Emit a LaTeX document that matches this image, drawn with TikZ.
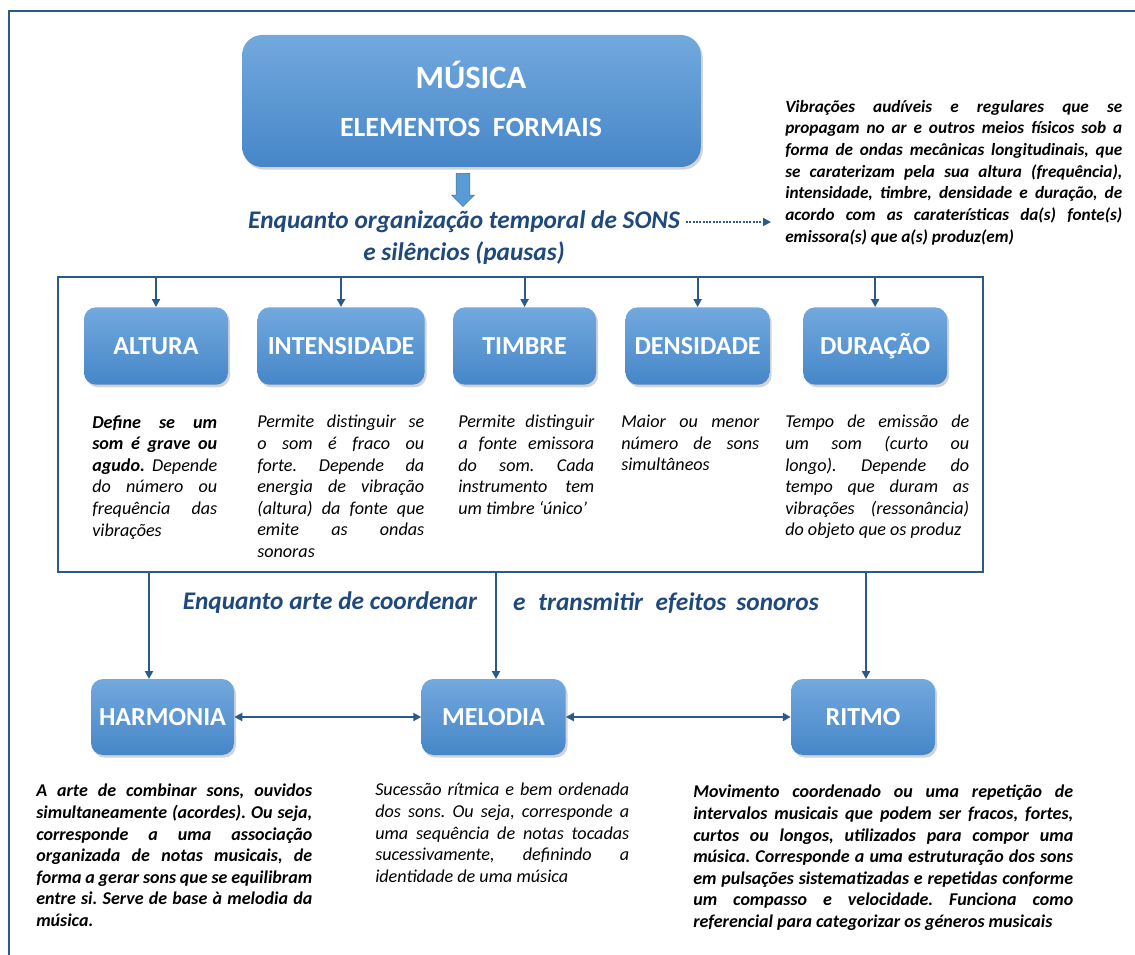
\documentclass[tikz,border=0pt]{standalone}
\usepackage{fontspec}
\setmainfont{Carlito}
\usetikzlibrary{positioning,shadows,shapes.arrows,arrows.meta}
\definecolor{linha}{HTML}{2B5A8A}
\definecolor{titulo}{HTML}{1F497D}
\definecolor{caixatopo}{HTML}{72A9DE}
\definecolor{caixabase}{HTML}{4686C8}
\definecolor{setaazul}{HTML}{5B9BD5}
\definecolor{setaborda}{HTML}{41719C}
\frenchspacing

\begin{document}
\begin{tikzpicture}[x=0.75pt, y=-0.75pt,
				block/.style={rectangle, rounded corners=9pt, top color=caixatopo, bottom color=caixabase, text=white, font=\fontsize{19.5}{22}\selectfont\bfseries, minimum height=58pt, drop shadow={shadow xshift=1.5pt, shadow yshift=-2pt, opacity=0.35}},
				desc/.style={anchor=north west, inner sep=0pt, align=justify, font=\fontsize{13.6}{16.2}\selectfont\itshape},
				descb/.style={desc, font=\fontsize{13.5}{16.2}\selectfont\bfseries\itshape},
				head/.style={inner sep=0pt, text=titulo, font=\fontsize{19}{23}\selectfont\bfseries\itshape},
				titletext/.style={inner sep=0pt, text=white, font=\bfseries},
				frame/.style={rectangle, draw=linha, line width=1.5pt, inner sep=0pt},
				seta/.style={draw=linha, line width=1.5pt, -{Triangle[length=6pt, width=6pt]}}
			]
			\useasboundingbox (0,0) rectangle (1135,955);
			\draw[linha, line width=1.5pt] (9,955) -- (9,11) -- (1135,11);
			\node[block, minimum width=344pt, minimum height=99pt, rounded corners=15pt] (musica) at (471.5,101) {};
			\node[titletext, font=\fontsize{24.4}{28}\selectfont\bfseries] (nomemusica) at (471,75) {MÚSICA};
			\node[titletext, font=\fontsize{20.9}{24}\selectfont\bfseries] (elementos) at (471,127) {ELEMENTOS\hspace{0.45em}FORMAIS};
			\node[single arrow, draw=setaborda, fill=setaazul, rotate=-90, minimum height=24.75pt, inner sep=4.9pt, single arrow head extend=3.4pt] (bloco) at (463,186.5) {};
			\node[head] (temporal) at (464,222) {Enquanto organização temporal de SONS};
			\node[head] (pausas) at (464,253) {e silêncios (pausas)};
			\node[desc, text width=252.75pt, font=\fontsize{12.9}{16.25}\selectfont\bfseries\itshape] (vibracoes) at (785,100) {Vibrações audíveis e regulares que se\linebreak propagam no ar e outros meios físicos sob a\linebreak forma de ondas mecânicas longitudinais, que\linebreak se caraterizam pela sua altura (frequência),\linebreak intensidade, timbre, densidade e duração, de\linebreak acordo com as caraterísticas da(s) fonte(s)\linebreak emissora(s) que a(s) produz(em)};
			\node[frame, minimum width=693.75pt, minimum height=221.25pt] (grupo) at (520.5,424.5) {};
			\node[block, minimum width=108pt] (altura) at (156,346) {ALTURA};
			\node[block, minimum width=125.25pt] (intensidade) [right=21.75pt of altura] {INTENSIDADE};
			\node[block, minimum width=107.25pt] (timbre) [right=21pt of intensidade] {TIMBRE};
			\node[block, minimum width=108pt] (densidade) [right=21.75pt of timbre] {DENSIDADE};
			\node[block, minimum width=108pt] (duracao) [right=24.75pt of densidade] {DURAÇÃO};
			\node[desc, text width=93.75pt] (daltura) at (92,415) {\textbf{Define se um\linebreak som é grave ou\linebreak agudo.} Depende\linebreak do número ou\linebreak frequência das\linebreak vibrações};
			\node[desc, text width=125.25pt] (dintensidade) at (257,415) {Permite distinguir se\linebreak o som é fraco ou\linebreak forte. Depende da\linebreak energia de vibração\linebreak (altura) da fonte que\linebreak emite as ondas\linebreak sonoras};
			\node[desc, text width=102pt] (dtimbre) at (458,415) {Permite distinguir\linebreak a fonte emissora\linebreak do som. Cada\linebreak instrumento tem\linebreak um timbre ‘único’};
			\node[desc, text width=103.5pt] (ddensidade) at (621,415) {Maior ou menor\linebreak número de sons\linebreak simultâneos};
			\node[desc, text width=138pt] (dduracao) at (785,415) {Tempo de emissão de\linebreak um som (curto ou\linebreak longo). Depende do\linebreak tempo que duram as\linebreak vibrações (ressonância)\linebreak do objeto que os produz};
			\node[head] (coordenar) at (330,603) {Enquanto arte de coordenar};
			\node[head] (transmitir) at (666,603) {e\hspace{0.5em}transmitir\hspace{0.5em}efeitos\hspace{0.4em}sonoros};
			\node[block, minimum width=107.25pt, minimum height=57pt] (harmonia) at (162.5,717) {HARMONIA};
			\node[block, minimum width=108pt, minimum height=57pt] (melodia) [right=140.25pt of harmonia] {MELODIA};
			\node[block, minimum width=108pt, minimum height=57pt] (ritmo) [right=168.75pt of melodia] {RITMO};
			\coordinate (harmtopo) at (149,679);
			\coordinate (meltopo) at (496,679);
			\coordinate (ritmotopo) at (866,679);
			\node[descb, text width=207pt] (dharmonia) at (36,784) {A arte de combinar sons, ouvidos\linebreak simultaneamente (acordes). Ou seja,\linebreak corresponde a uma associação\linebreak organizada de notas musicais, de\linebreak forma a gerar sons que se equilibram\linebreak entre si. Serve de base à melodia da\linebreak música.};
			\node[desc, text width=190.5pt] (dmelodia) at (375,783) {Sucessão rítmica e bem ordenada\linebreak dos sons. Ou seja, corresponde a\linebreak uma sequência de notas tocadas\linebreak sucessivamente, definindo a\linebreak identidade de uma música};
			\node[descb, text width=285pt] (dritmo) at (693,785) {Movimento coordenado ou uma repetição de\linebreak intervalos musicais que podem ser fracos, fortes,\linebreak curtos ou longos, utilizados para compor uma\linebreak música. Corresponde a uma estruturação dos sons\linebreak em pulsações sistematizadas e repetidas conforme\linebreak um compasso e velocidade. Funciona como\linebreak referencial para categorizar os géneros musicais};
			\begin{scope}[seta]
			\foreach \n in {altura,intensidade,timbre,densidade,duracao}
				\draw (\n.north |- grupo.north) -- (\n.north);
			\foreach \t in {harmtopo,meltopo,ritmotopo}
				\draw (grupo.south -| \t) -- (\t);
			\draw[{Triangle[length=6pt, width=6pt]}-{Triangle[length=6pt, width=6pt]}] (harmonia.east) -- (melodia.west);
			\draw[{Triangle[length=6pt, width=6pt]}-{Triangle[length=6pt, width=6pt]}] (melodia.east) -- (ritmo.west);
			\draw[line width=1.3pt, dash pattern=on 1.3pt off 1.2pt] ([xshift=4.5pt]temporal.east) -- ([xshift=-10.5pt]temporal.east -| vibracoes.west);
			\end{scope}
			\end{tikzpicture}
\end{document}
